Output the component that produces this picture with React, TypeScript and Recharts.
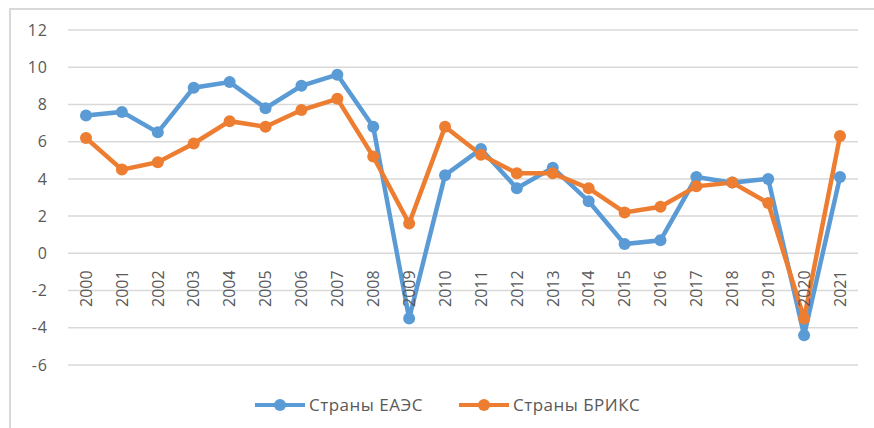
import { LineChart, Line, XAxis, YAxis, CartesianGrid } from 'recharts';

const years = [
  '2000', '2001', '2002', '2003', '2004', '2005', '2006', '2007', '2008', '2009', '2010',
  '2011', '2012', '2013', '2014', '2015', '2016', '2017', '2018', '2019', '2020', '2021',
];
const eaesValues = [7.4, 7.6, 6.5, 8.9, 9.2, 7.8, 9.0, 9.6, 6.8, -3.5, 4.2, 5.6, 3.5, 4.6, 2.8, 0.5, 0.7, 4.1, 3.8, 4.0, -4.4, 4.1];
const bricsValues = [6.2, 4.5, 4.9, 5.9, 7.1, 6.8, 7.7, 8.3, 5.2, 1.6, 6.8, 5.3, 4.3, 4.3, 3.5, 2.2, 2.5, 3.6, 3.8, 2.7, -3.5, 6.3];
const yTicks = [-6, -4, -2, 0, 2, 4, 6, 8, 10, 12];

const seriesNames = { eaes: 'Страны ЕАЭС', brics: 'Страны БРИКС' };
const BLUE = '#5B9BD5';
const ORANGE = '#ED7D31';
const FONT = 'Open Sans, sans-serif';

const data = years.map((year, i) => ({ year, eaes: eaesValues[i], brics: bricsValues[i] }));

const MARGIN = { top: 30, right: 16, bottom: 62, left: 8 };
const PLOT_HEIGHT = 428 - MARGIN.top - MARGIN.bottom - 1;
// the year labels hang under the zero line, not under the plot
const ZERO_OFFSET = (PLOT_HEIGHT * 6) / 18;

const YearTick = ({ x, y, payload }: any) => {
  const ty = y - ZERO_OFFSET + 9;
  return (
    <text
      x={x}
      y={ty}
      transform={`rotate(-90 ${x} ${ty})`}
      textAnchor="end"
      dy="0.36em"
      fill="#595959"
      fontSize={16}
      fontFamily={FONT}
    >
      {payload.value}
    </text>
  );
};

const LegendItem = ({ color, label }: { color: string; label: string }) => (
  <div style={{ display: 'flex', alignItems: 'center', marginRight: 36 }}>
    <svg width={50} height={14}>
      <line x1={0} y1={7} x2={50} y2={7} stroke={color} strokeWidth={4} />
      <circle cx={25} cy={7} r={6} fill={color} />
    </svg>
    <span style={{ marginLeft: 4, color: '#595959', fontSize: 17, letterSpacing: 0.5, fontFamily: FONT }}>{label}</span>
  </div>
);

export default function App() {
  return (
    <div style={{ position: 'absolute', left: 0, top: 0, width: 874, height: 428, background: '#fff', overflow: 'hidden' }}>
      <div
        style={{
          position: 'absolute',
          left: 9,
          top: 8,
          width: 900,
          height: 440,
          border: '2px solid #d9d9d9',
        }}
      />
      <LineChart width={874} height={428} data={data} margin={MARGIN}>
        <CartesianGrid vertical={false} stroke="#d9d9d9" strokeWidth={1.5} />
        <XAxis
          dataKey="year"
          axisLine={false}
          tickLine={false}
          height={1}
          padding={{ left: 18, right: 18 }}
          tick={<YearTick />}
          interval={0}
        />
        <YAxis
          domain={[-6, 12]}
          ticks={yTicks}
          width={60}
          axisLine={false}
          tickLine={false}
          tick={{ fill: '#595959', fontSize: 16, letterSpacing: 1, fontFamily: FONT, dx: -12 }}
        />
        <Line
          dataKey="eaes"
          name={seriesNames.eaes}
          stroke={BLUE}
          strokeWidth={4.5}
          dot={{ r: 6, fill: BLUE, stroke: BLUE, strokeWidth: 0 }}
          activeDot={false}
          isAnimationActive={false}
        />
        <Line
          dataKey="brics"
          name={seriesNames.brics}
          stroke={ORANGE}
          strokeWidth={4.5}
          dot={{ r: 6, fill: ORANGE, stroke: ORANGE, strokeWidth: 0 }}
          activeDot={false}
          isAnimationActive={false}
        />
      </LineChart>
      <div style={{ position: 'absolute', left: 255, top: 393, display: 'flex' }}>
        <LegendItem color={BLUE} label={seriesNames.eaes} />
        <LegendItem color={ORANGE} label={seriesNames.brics} />
      </div>
    </div>
  );
}
